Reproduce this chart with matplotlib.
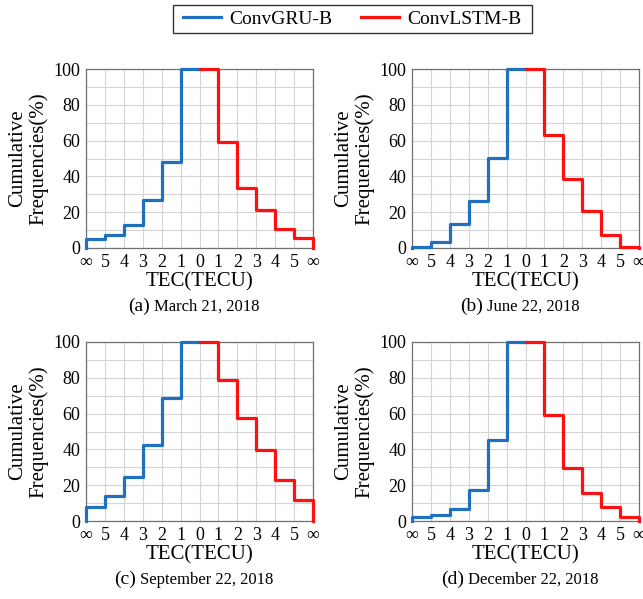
import numpy as np
import matplotlib
matplotlib.use("Agg")
import matplotlib.pyplot as plt
from matplotlib.lines import Line2D
from matplotlib.patches import Rectangle
from matplotlib.ticker import MultipleLocator
from matplotlib.offsetbox import TextArea, HPacker, AnnotationBbox

# x axis: error bins, |TEC error| from -inf..0..+inf
tick_labels = ["\u221e", "5", "4", "3", "2", "1", "0", "1", "2", "3", "4", "5", "\u221e"]

panel_tags = ["(a)", "(b)", "(c)", "(d)"]
panel_dates = ["March 21, 2018", "June 22, 2018", "September 22, 2018", "December 22, 2018"]

# cumulative frequencies (%) per 1-TECU bin
gru_a = [5, 7, 12.7, 26.7, 48.2, 100]
lstm_a = [100, 59.1, 33.6, 21.1, 10.7, 5.4]
gru_b = [0.5, 3.6, 13.3, 26.5, 50.3, 100]
lstm_b = [100, 63.4, 38.8, 20.5, 7.3, 0.8]
gru_c = [7.6, 13.8, 24.6, 42.4, 68.8, 100]
lstm_c = [100, 78.9, 57.6, 39.6, 22.9, 11.8]
gru_d = [2.0, 3.5, 6.7, 17.5, 45.0, 100]
lstm_d = [100, 59.1, 29.7, 15.5, 7.8, 2.0]

gru_all = [gru_a, gru_b, gru_c, gru_d]
lstm_all = [lstm_a, lstm_b, lstm_c, lstm_d]

BLUE = "#1f70c1"
RED = "#ff1010"
SERIF = ["Liberation Serif", "DejaVu Serif"]

plt.rcParams["font.family"] = SERIF

fig = plt.figure(figsize=(6.43, 5.99), dpi=100)
W, H = 643.0, 599.0

# axes boxes in pixels: left, top, right, bottom
boxes = [(86, 69, 313, 248), (412, 69, 639, 248),
         (86, 342, 313, 521), (412, 342, 639, 521)]

for i, (l, t, r, b) in enumerate(boxes):
    ax = fig.add_axes([l / W, 1 - b / H, (r - l) / W, (b - t) / H])
    gru = gru_all[i]
    lstm = lstm_all[i]

    # left half: starts at 0 on the far left, climbs to 100 at zero error
    xb = np.concatenate([[0], np.arange(0, 7)])
    yb = np.concatenate([[0], gru, [gru[-1]]])
    ax.plot(xb, yb, drawstyle="steps-post", color=BLUE, lw=2.3, clip_on=False, zorder=3)

    # right half: falls from 100 and drops to 0 at the far right
    xr = np.concatenate([np.arange(6, 13), [12]])
    yr = np.concatenate([lstm, [lstm[-1], 0]])
    ax.plot(xr, yr, drawstyle="steps-post", color=RED, lw=2.3, clip_on=False, zorder=3)

    ax.set_xlim(0, 12)
    ax.set_ylim(0, 100)
    ax.set_xticks(np.arange(13))
    ax.set_xticklabels(tick_labels)
    ax.set_yticks(np.arange(0, 101, 20))
    ax.yaxis.set_minor_locator(MultipleLocator(10))
    ax.tick_params(which="both", length=0, labelsize=13, pad=4)
    ax.grid(True, which="major", color="#d4d4d4", lw=0.8)
    ax.grid(True, which="minor", axis="y", color="#d4d4d4", lw=0.8)
    ax.set_axisbelow(True)
    for sp in ax.spines.values():
        sp.set_color("#707070")
        sp.set_linewidth(0.9)

    ax.set_xlabel("TEC(TECU)", fontsize=15, labelpad=1)
    ax.set_ylabel("Cumulative\nFrequencies(%)", fontsize=15, labelpad=4, linespacing=1.05)

    # caption under each panel: "(a)" a bit larger than the date
    cap = HPacker(children=[TextArea(panel_tags[i], textprops=dict(fontsize=14, family=SERIF)),
                            TextArea(panel_dates[i], textprops=dict(fontsize=12, family=SERIF))],
                  align="baseline", pad=0, sep=3)
    cx = (l + r) / 2 - 6
    cy = b + 58
    ab = AnnotationBbox(cap, (cx / W, 1 - cy / H), xycoords="figure fraction",
                        box_alignment=(0.5, 0.5), frameon=False)
    fig.add_artist(ab)

# legend: entries centred in a hand-drawn box
handles = [Line2D([], [], color=BLUE, lw=2.3), Line2D([], [], color=RED, lw=2.3)]
fig.legend(handles, ["ConvGRU-B", "ConvLSTM-B"], loc="center", ncol=2,
           bbox_to_anchor=(352.5 / W, 1 - 19 / H), fontsize=14, frameon=False,
           handlelength=1.95, handletextpad=0.45, columnspacing=1.45, borderpad=0.3)
fig.add_artist(Rectangle((173 / W, 1 - 33 / H), 359 / W, 28 / H, transform=fig.transFigure,
                         fill=False, edgecolor="#333333", lw=1.0))

fig.savefig("out.png", dpi=100)
